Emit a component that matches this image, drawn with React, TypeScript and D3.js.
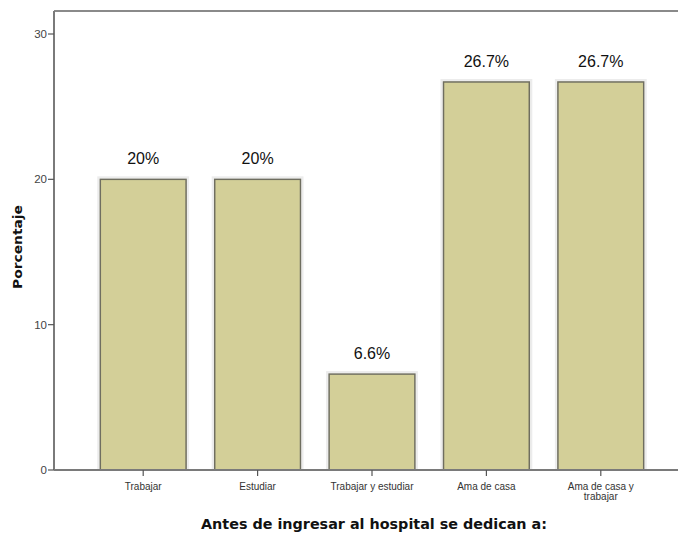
import React from "react";
import * as d3 from "d3";

const categories = ["Trabajar", "Estudiar", "Trabajar y estudiar", "Ama de casa", "Ama de casa y trabajar"];
const categoryLines = [["Trabajar"], ["Estudiar"], ["Trabajar y estudiar"], ["Ama de casa"], ["Ama de casa y", "trabajar"]];
const percentages = [20, 20, 6.6, 26.7, 26.7];
const valueLabels = ["20%", "20%", "6.6%", "26.7%", "26.7%"];
const yTicks = [0, 10, 20, 30];

const W = 678;
const H = 540;
const axisLeft = 54;
const axisTop = 11;
const axisBottom = 470;

export default function App() {
  const x = d3.scaleBand<string>().domain(categories).range([86, 658]).paddingInner(0.25).paddingOuter(0.125);
  const y = d3.scaleLinear().domain([0, 30]).range([axisBottom, 34]);

  return (
    <svg width={W} height={H} style={{ position: "absolute", left: 0, top: 0, background: "#fff" }}>
      {/* frame */}
      <line x1={axisLeft} x2={W} y1={axisTop} y2={axisTop} stroke="#8a8a8a" strokeWidth={2} />
      <line x1={axisLeft} x2={axisLeft} y1={axisTop} y2={axisBottom} stroke="#7a7a7a" strokeWidth={2} />

      {/* bars */}
      {categories.map((c, i) => {
        const bx = x(c)!;
        const bw = x.bandwidth();
        const top = y(percentages[i]);
        return (
          <g key={c}>
            <rect x={bx - 2} y={top - 2} width={bw + 4} height={axisBottom - top + 2} fill="none" stroke="#ececec" strokeWidth={2} />
            <rect x={bx} y={top} width={bw} height={axisBottom - top} fill="#d3cf98" stroke="#6f6e60" strokeWidth={1.5} />
            <text x={bx + bw / 2} y={top - 15} textAnchor="middle" fontFamily="Arial, 'Liberation Sans', sans-serif" fontSize={16} fill="#111">
              {valueLabels[i]}
            </text>
          </g>
        );
      })}

      <line x1={axisLeft} x2={W} y1={axisBottom} y2={axisBottom} stroke="#7a7a7a" strokeWidth={2} />

      {/* y ticks */}
      {yTicks.map((t) => (
        <g key={t}>
          <line x1={axisLeft - 6} x2={axisLeft} y1={y(t)} y2={y(t)} stroke="#555" strokeWidth={1.2} />
          <text x={axisLeft - 7} y={y(t) + 4} textAnchor="end" fontFamily="Arial, 'Liberation Sans', sans-serif" fontSize={11.5} fill="#444">
            {t}
          </text>
        </g>
      ))}

      {/* x ticks */}
      {categories.map((c, i) => {
        const cx = x(c)! + x.bandwidth() / 2;
        return (
          <g key={c}>
            <line x1={cx} x2={cx} y1={axisBottom} y2={axisBottom + 6} stroke="#555" strokeWidth={1.2} />
            {categoryLines[i].map((ln, j) => (
              <text key={j} x={cx} y={axisBottom + 20 + j * 10} textAnchor="middle" fontFamily="Arial, 'Liberation Sans', sans-serif" fontSize={10} fill="#333">
                {ln}
              </text>
            ))}
          </g>
        );
      })}

      {/* axis titles */}
      <text x={374} y={529} textAnchor="middle" fontFamily="'DejaVu Sans', sans-serif" fontWeight="bold" fontSize={13.5} fill="#111" textLength={346} lengthAdjust="spacingAndGlyphs">
        Antes de ingresar al hospital se dedican a:
      </text>
      <text transform="translate(22,247) rotate(-90)" textAnchor="middle" fontFamily="'DejaVu Sans', sans-serif" fontWeight="bold" fontSize={13} fill="#111" textLength={84} lengthAdjust="spacingAndGlyphs">
        Porcentaje
      </text>
    </svg>
  );
}
